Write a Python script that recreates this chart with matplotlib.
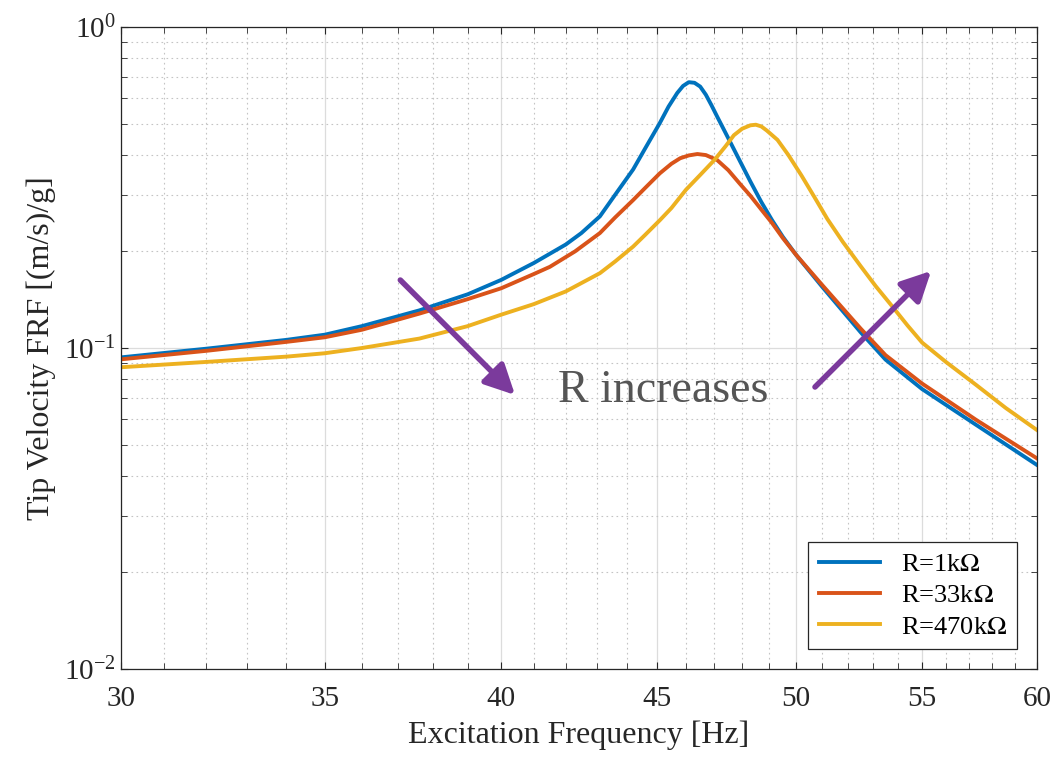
import numpy as np
from matplotlib import pyplot as plt
from matplotlib import ticker

plt.rcParams['font.family'] = ['Liberation Serif', 'DejaVu Serif']
plt.rcParams['mathtext.fontset'] = 'stix'

# values (frequency in Hz, FRF in (m/s)/g)
f_1k = [30.0, 32.0, 34.0, 35.0, 36.0, 37.6, 39.0, 40.0, 41.0, 42.0, 42.5, 43.1, 43.6,
        44.2, 44.6, 45.1, 45.4, 45.7, 45.9, 46.1, 46.3, 46.5, 46.7, 46.9, 47.1, 47.5,
        47.9, 48.3, 48.7, 49.1, 49.5, 50.0, 51.0, 52.5, 53.5, 55.0, 57.3, 60.0]
v_1k = [0.0935, 0.0995, 0.106, 0.110, 0.117, 0.131, 0.147, 0.163, 0.184, 0.210, 0.228, 0.257, 0.300,
        0.360, 0.418, 0.502, 0.565, 0.623, 0.655, 0.673, 0.670, 0.652, 0.615, 0.570, 0.526, 0.450,
        0.385, 0.330, 0.285, 0.250, 0.222, 0.195, 0.155, 0.112, 0.092, 0.0745, 0.0576, 0.0432]

f_33k = [30.0, 32.0, 34.0, 35.0, 36.0, 37.6, 39.0, 40.0, 41.0, 41.5, 42.3, 43.1, 43.6,
         44.2, 44.6, 45.1, 45.5, 45.8, 46.1, 46.4, 46.7, 47.1, 47.5, 47.9, 48.3, 48.7,
         49.1, 49.5, 50.0, 51.0, 52.5, 53.5, 55.0, 57.3, 60.0]
v_33k = [0.0922, 0.098, 0.1045, 0.108, 0.114, 0.128, 0.142, 0.1535, 0.170, 0.179, 0.200, 0.228, 0.255,
         0.289, 0.315, 0.350, 0.375, 0.390, 0.398, 0.402, 0.399, 0.385, 0.358, 0.326, 0.298, 0.270,
         0.245, 0.220, 0.195, 0.157, 0.115, 0.095, 0.0775, 0.0597, 0.0453]

f_470k = [30.0, 32.0, 34.0, 35.0, 36.0, 37.6, 39.0, 40.0, 41.0, 42.0, 43.1, 43.6, 44.2,
          44.6, 45.1, 45.5, 46.0, 46.5, 47.0, 47.4, 47.7, 48.0, 48.3, 48.5, 48.7, 48.9,
          49.3, 49.7, 50.2, 50.7, 51.2, 51.8, 52.5, 53.1, 53.8, 54.4, 55.0, 56.0, 57.3,
          58.6, 60.0]
v_470k = [0.0871, 0.0905, 0.094, 0.0963, 0.100, 0.107, 0.117, 0.127, 0.137, 0.150, 0.171, 0.186, 0.207,
          0.225, 0.250, 0.273, 0.311, 0.346, 0.385, 0.425, 0.460, 0.482, 0.494, 0.496, 0.490, 0.476,
          0.445, 0.400, 0.345, 0.295, 0.252, 0.214, 0.180, 0.156, 0.134, 0.1175, 0.104, 0.0905, 0.0767,
          0.065, 0.0555]

labels = ['R=1k$\\Omega$', 'R=33k$\\Omega$', 'R=470k$\\Omega$']
colors = ['#0072BD', '#D95319', '#EDB120']
xticks = [30, 35, 40, 45, 50, 55, 60]

fig = plt.figure(figsize=(10.58, 7.64), dpi=100)
ax = fig.add_axes([0.1144, 0.1243, 0.8658, 0.8404])

for f, v, lab, c in zip([f_1k, f_33k, f_470k], [v_1k, v_33k, v_470k], labels, colors):
    ax.plot(f, v, color=c, lw=2.8, label=lab, solid_joinstyle='round')

ax.set_xscale('log')
ax.set_yscale('log')
ax.set_xlim(30, 60)
ax.set_ylim(1e-2, 1e0)
ax.set_xticks(xticks)
ax.set_xticks(np.arange(30, 61), minor=True)
ax.xaxis.set_major_formatter(ticker.FixedFormatter([str(t) for t in xticks]))
ax.xaxis.set_minor_formatter(ticker.NullFormatter())

ax.grid(True, which='major', color='#dcdcdc', lw=0.9, ls='-')
ax.grid(True, which='minor', color='#c4c4c4', lw=0.8, ls=(0, (1.5, 3)))
ax.set_axisbelow(True)
ax.tick_params(which='both', direction='in', top=True, right=True, labelsize=21,
               color='#262626', labelcolor='#262626')
ax.tick_params(which='major', length=5)
ax.tick_params(which='minor', length=4)
ax.tick_params(axis='x', pad=12)
for s in ax.spines.values():
    s.set_color('#262626')
    s.set_linewidth(0.9)

ax.set_xlabel('Excitation Frequency [Hz]', fontsize=23, color='#262626', labelpad=6)
ax.set_ylabel('Tip Velocity FRF [(m/s)/g]', fontsize=23, color='#262626', labelpad=6)

arrow = dict(arrowstyle='-|>,head_length=0.9,head_width=0.45', mutation_scale=20,
             lw=4, color='#7B3A9C', shrinkA=0, shrinkB=0)
ax.annotate('', xy=(40.42, 0.0714), xytext=(37.06, 0.1628), arrowprops=arrow)
ax.annotate('', xy=(55.38, 0.1738), xytext=(50.72, 0.0756), arrowprops=arrow)
ax.text(41.75, 0.068, 'R increases', fontsize=33, color='#555555', va='baseline', ha='left')

leg = ax.legend(loc='lower right', fontsize=19, handlelength=2.3, fancybox=False,
                edgecolor='#262626', framealpha=1, borderaxespad=0.75, labelspacing=0.3)
leg.get_frame().set_linewidth(0.9)

plt.savefig('out.png', dpi=100)
